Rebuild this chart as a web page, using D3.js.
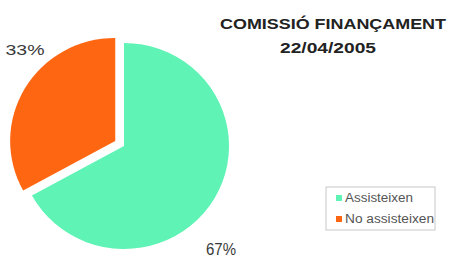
<!DOCTYPE html>
<html>
<head>
<meta charset="utf-8">
<script src="https://cdn.jsdelivr.net/npm/d3@7"></script>
<style>
  body { margin: 0; background: #fff; }
  svg text { font-family: "Liberation Sans", Arial, sans-serif; fill: #3a3a3a; }
</style>
</head>
<body>
<svg id="chart" width="451" height="259"></svg>
<script>
// chart data
const categories = ["Assisteixen", "No assisteixen"];
const values = [67, 33];
const pctLabels = ["67%", "33%"];
const colors = ["#5ff3b6", "#ff6611"];
const titleLines = ["COMISSIÓ FINANÇAMENT", "22/04/2005"];

const width = 451, height = 259;
const svg = d3.select("#chart");

const cx = 124, cy = 146, r = 103;
const explode = 10;

const pie = d3.pie().sort(null).value(d => d)(values);
const arc = d3.arc().innerRadius(0).outerRadius(r);

const g = svg.append("g").attr("transform", `translate(${cx},${cy}) scale(1.02,1)`);

g.selectAll("path").data(pie).join("path")
    .attr("d", arc)
    .attr("fill", (d, i) => colors[i])
    .attr("transform", (d, i) => {
        if (i !== 1) return null;
        const mid = (d.startAngle + d.endAngle) / 2;
        return `translate(${Math.sin(mid) * explode},${-Math.cos(mid) * explode})`;
    });

// percentage labels
const labelPos = [
    { x: 221, y: 255, w: 30, size: 16 },
    { x: 25, y: 55, w: 39, size: 14 }
];
svg.selectAll("text.pct").data(pctLabels).join("text")
    .attr("class", "pct")
    .attr("x", (d, i) => labelPos[i].x)
    .attr("y", (d, i) => labelPos[i].y)
    .attr("text-anchor", "middle")
    .attr("font-size", (d, i) => labelPos[i].size)
    .attr("textLength", (d, i) => labelPos[i].w)
    .attr("lengthAdjust", "spacingAndGlyphs")
    .text(d => d);

// title
svg.append("text")
    .attr("x", 333).attr("y", 29)
    .attr("text-anchor", "middle")
    .attr("font-weight", "bold").attr("font-size", 15)
    .attr("textLength", 226).attr("lengthAdjust", "spacingAndGlyphs")
    .style("fill", "#222")
    .text(titleLines[0]);
svg.append("text")
    .attr("x", 328).attr("y", 53)
    .attr("text-anchor", "middle")
    .attr("font-weight", "bold").attr("font-size", 14)
    .attr("textLength", 96).attr("lengthAdjust", "spacingAndGlyphs")
    .style("fill", "#222")
    .text(titleLines[1]);

// legend
const legend = svg.append("g").attr("transform", "translate(326,187)");
legend.append("rect")
    .attr("width", 109).attr("height", 43)
    .attr("fill", "#fff").attr("stroke", "#c8c8c8");
const item = legend.selectAll("g.item").data(categories).join("g")
    .attr("class", "item")
    .attr("transform", (d, i) => `translate(0,${11 + i * 21})`);
item.append("rect")
    .attr("x", 10).attr("y", -3).attr("width", 6).attr("height", 6)
    .attr("fill", (d, i) => colors[i]);
item.append("text")
    .attr("x", 19).attr("y", 4)
    .attr("font-size", 12)
    .attr("textLength", (d, i) => i === 0 ? 68 : 89)
    .attr("lengthAdjust", "spacingAndGlyphs")
    .style("fill", "#555")
    .text(d => d);
</script>
</body>
</html>
